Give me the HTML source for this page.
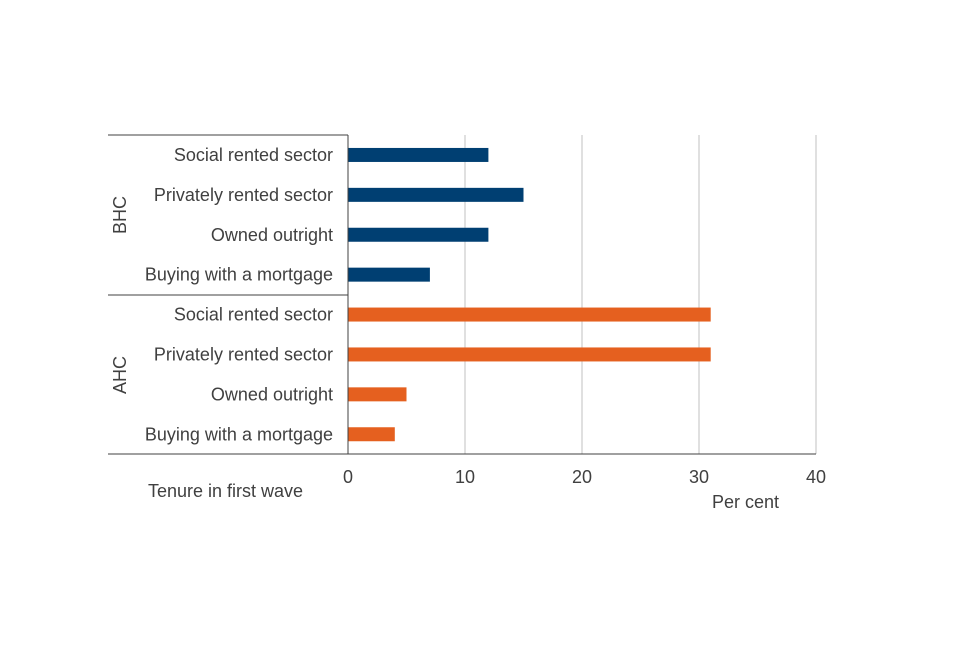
<!DOCTYPE html>
<html><head><meta charset="utf-8"><style>
html,body{margin:0;padding:0;background:#fff;}
svg text{font-family:"Liberation Sans",Arial,sans-serif;fill:#404040;}
</style></head><body>
<svg width="960" height="640" viewBox="0 0 960 640" xmlns="http://www.w3.org/2000/svg">
<g id="grid"></g>
<g id="bars"></g>
<g id="labels"></g>
<g id="ticks"></g>
<line x1="108" y1="135" x2="348" y2="135" stroke="#404040" stroke-width="1"/>
<line x1="108" y1="295" x2="348" y2="295" stroke="#404040" stroke-width="1"/>
<line x1="108" y1="454" x2="816" y2="454" stroke="#404040" stroke-width="1"/>
<line x1="348" y1="135" x2="348" y2="454" stroke="#404040" stroke-width="1"/>
<text x="126" y="215" font-size="18" text-anchor="middle" transform="rotate(-90 126 215)">BHC</text>
<text x="126" y="375" font-size="18" text-anchor="middle" transform="rotate(-90 126 375)">AHC</text>
<text x="148" y="497" font-size="18">Tenure in first wave</text>
<text x="712" y="508" font-size="18">Per cent</text>
</svg>
<script>
const categories = ["Social rented sector","Privately rented sector","Owned outright","Buying with a mortgage","Social rented sector","Privately rented sector","Owned outright","Buying with a mortgage"];
const groups = ["BHC","BHC","BHC","BHC","AHC","AHC","AHC","AHC"];
const values = [12,15,12,7,31,31,5,4];
const tickLabels = [0,10,20,30,40];
{
const NS="http://www.w3.org/2000/svg";
const x0=348, xMax=816, vMax=40, chartTop=135, rowH=39.9, barH=14;
const xs=v=>x0+(xMax-x0)*v/vMax;
const ys=i=>chartTop+rowH*(i+0.5);
const colors={BHC:"#003f72",AHC:"#e5601f"};
const grid=document.getElementById('grid'), bars=document.getElementById('bars'), labels=document.getElementById('labels'), ticks=document.getElementById('ticks');
tickLabels.forEach(t=>{
  if(t>0){const l=document.createElementNS(NS,'line');
  l.setAttribute('x1',xs(t));l.setAttribute('x2',xs(t));l.setAttribute('y1',chartTop);l.setAttribute('y2',454);
  l.setAttribute('stroke','#d0d0d0');l.setAttribute('stroke-width','1.3');
  
  
  grid.appendChild(l);}
  const tx=document.createElementNS(NS,'text');
  tx.setAttribute('x',xs(t));tx.setAttribute('y',483);tx.setAttribute('font-size','18');tx.setAttribute('text-anchor','middle');
  tx.textContent=t;
  
  
  ticks.appendChild(tx);
});
values.forEach((v,i)=>{
  const r=document.createElementNS(NS,'rect');
  r.setAttribute('x',x0);r.setAttribute('y',ys(i)-barH/2);r.setAttribute('width',xs(v)-x0);r.setAttribute('height',barH);
  r.setAttribute('fill',colors[groups[i]]);
  
  
  bars.appendChild(r);
  const t=document.createElementNS(NS,'text');
  t.setAttribute('x',333);t.setAttribute('y',ys(i)+6);t.setAttribute('font-size','18');t.setAttribute('text-anchor','end');
  t.textContent=categories[i];
  
  
  labels.appendChild(t);
});
}
</script>
</body></html>
